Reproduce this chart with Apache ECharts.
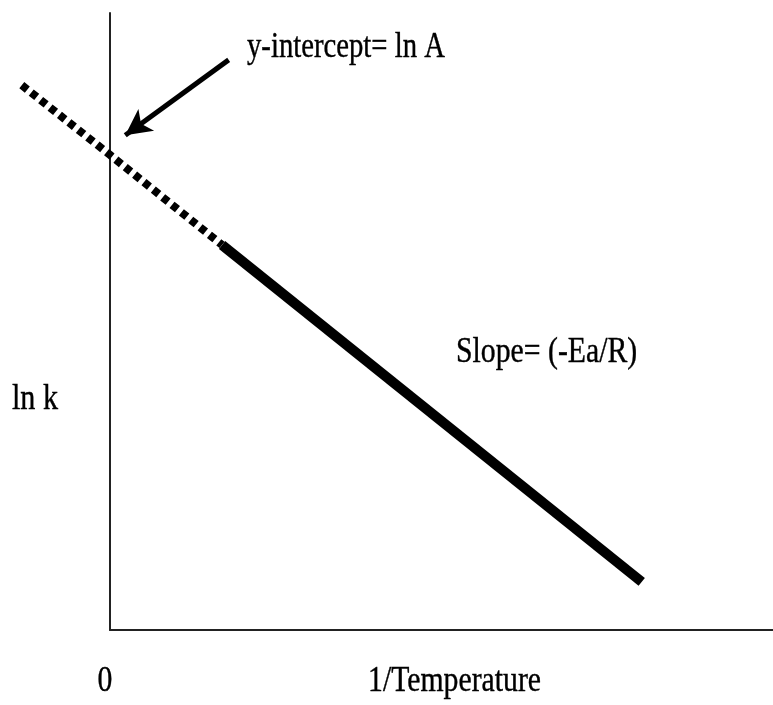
<!DOCTYPE html>
<html>
<head>
    <meta charset="utf-8">
    <title>ln k vs 1/T</title>
    <script src="https://cdn.jsdelivr.net/npm/echarts@6/dist/echarts.min.js"></script>
</head>
<body style="margin: 0; padding: 0; background: #fff;">
<div id="main" style="width: 773px; height: 705px;"></div>
<script type="text/javascript">
    // 外推部分（虚线），穿过 y 轴
    var dashX = [-1.33, 0, 1.69];
    var dashY = [8.83, 7.70, 6.24];
    // 实测部分（实线）
    var solidX = [1.69, 8.02];
    var solidY = [6.24, 0.78];
    // 箭头起止点
    var arrowFrom = [1.79, 9.24];
    var arrowTo = [0.23, 8.02];
    var xTickLabels = ['0'];
    var xName = '1/Temperature';
    var yName = 'ln k';

    var serif = '"Liberation Serif", "DejaVu Serif", serif';
    var font = '35px ' + serif;

    function pairs(xs, ys) {
        var out = [];
        for (var i = 0; i < xs.length; i++) out.push([xs[i], ys[i]]);
        return out;
    }

    // 画线用的坐标系比可见坐标轴向左多出 1.5 个单位，这样虚线能越过 y 轴
    var xMinData = -1.5;
    var pxPerUnit = (773 - 110) / 10;

    var hidden = {
        axisLine: { show: false }, axisTick: { show: false },
        axisLabel: { show: false }, splitLine: { show: false }
    };
    var shown = {
        axisLine: { show: true, onZero: false, lineStyle: { color: '#222', width: 2 } },
        axisTick: { show: false },
        axisLabel: { show: false },
        splitLine: { show: false }
    };

    function label(text, x, y, sx, align) {
        return {
            type: 'text', x: x, y: y, scaleX: sx,
            style: {
                text: text, font: font, fill: '#000',
                stroke: '#000', lineWidth: 0.4,
                align: align || 'left', verticalAlign: 'middle'
            }
        };
    }

    var myChart = echarts.init(document.getElementById('main'));

    var option = {
        animation: false,
        grid: [
            { left: 110 + xMinData * pxPerUnit, right: 0, top: 13, bottom: 75, outerBoundsMode: 'none' },
            { left: 110, right: 0, top: 13, bottom: 75, outerBoundsMode: 'none' }
        ],
        xAxis: [
            Object.assign({ type: 'value', gridIndex: 0, min: xMinData, max: 10 }, hidden),
            Object.assign({ type: 'value', gridIndex: 1, min: 0, max: 10 }, shown)
        ],
        yAxis: [
            Object.assign({ type: 'value', gridIndex: 0, min: 0, max: 10 }, hidden),
            Object.assign({ type: 'value', gridIndex: 1, min: 0, max: 10 }, shown)
        ],
        series: [{
            type: 'line',
            xAxisIndex: 0, yAxisIndex: 0,
            data: pairs(dashX, dashY),
            symbol: 'none',
            clip: false,
            lineStyle: { color: '#000', width: 8, type: [7, 5], cap: 'butt' },
            markLine: {
                silent: true,
                symbol: ['none', 'arrow'],
                symbolSize: [20, 26],
                label: { show: false },
                lineStyle: { color: '#000', width: 5, type: 'solid' },
                data: [[{ coord: arrowFrom }, { coord: arrowTo }]]
            }
        }, {
            type: 'line',
            xAxisIndex: 0, yAxisIndex: 0,
            data: pairs(solidX, solidY),
            symbol: 'none',
            clip: false,
            lineStyle: { color: '#000', width: 10, cap: 'butt' }
        }],
        graphic: [
            label('y-intercept= ln A', 247, 48, 0.82),
            label('Slope= (-Ea/R)', 456, 353, 0.85),
            label(yName, 12, 400, 0.86),
            label(xTickLabels[0], 105, 682, 0.85, 'center'),
            label(xName, 368, 682, 0.85)
        ]
    };

    myChart.setOption(option);
</script>
</body>
</html>
